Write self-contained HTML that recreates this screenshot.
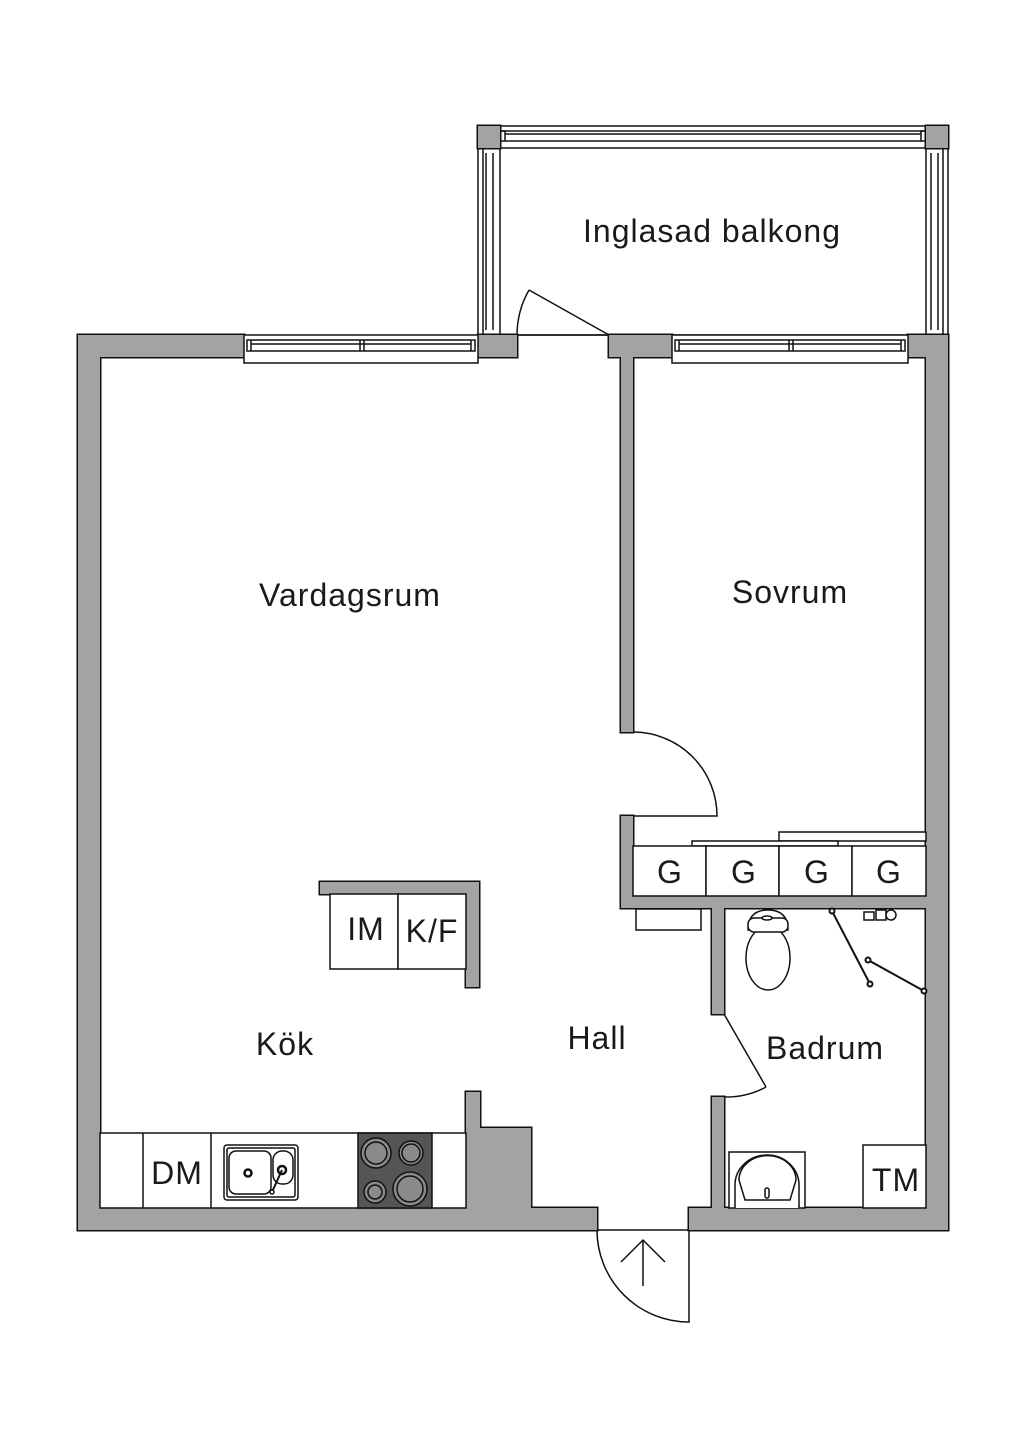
<!DOCTYPE html>
<html><head><meta charset="utf-8"><style>
html,body{margin:0;padding:0;background:#fff}
svg{display:block}
text{font-family:"Liberation Sans",sans-serif;fill:#1a1a1a;letter-spacing:1px}
</style></head><body>
<svg width="1024" height="1448" viewBox="0 0 1024 1448" xmlns="http://www.w3.org/2000/svg">
<rect width="1024" height="1448" fill="#fff"/>
<g fill="none" stroke="#111" stroke-width="1.5">
<rect x="478" y="126" width="470" height="209"/>
<line x1="500" y1="148" x2="926" y2="148"/>
<line x1="500" y1="131" x2="926" y2="131"/>
<line x1="505" y1="134" x2="921" y2="134"/>
<line x1="505" y1="141" x2="921" y2="141"/>
<rect x="500" y="131" width="5" height="10"/><rect x="921" y="131" width="5" height="10"/>
<line x1="500" y1="148" x2="500" y2="335"/>
<line x1="483" y1="148" x2="483" y2="335"/>
<line x1="486" y1="153" x2="486" y2="330"/>
<line x1="493" y1="153" x2="493" y2="330"/>
<line x1="926" y1="148" x2="926" y2="335"/>
<line x1="943" y1="148" x2="943" y2="335"/>
<line x1="931" y1="153" x2="931" y2="330"/>
<line x1="938" y1="153" x2="938" y2="330"/>
</g>
<g fill="#a3a3a3" stroke="#111" stroke-width="3">
<rect x="478" y="126" width="22" height="22"/><rect x="926" y="126" width="22" height="22"/>
<rect x="78" y="335" width="22" height="895"/>
<rect x="78" y="335" width="166" height="22"/>
<rect x="478" y="335" width="39" height="22"/>
<rect x="609" y="335" width="63" height="22"/>
<rect x="908" y="335" width="40" height="22"/>
<rect x="926" y="335" width="22" height="895"/>
<rect x="78" y="1208" width="519" height="22"/>
<rect x="689" y="1208" width="259" height="22"/>
<rect x="621" y="357" width="12" height="375"/>
<rect x="621" y="816" width="12" height="92"/>
<rect x="621" y="896" width="305" height="12"/>
<rect x="712" y="896" width="12" height="118"/>
<rect x="712" y="1097" width="12" height="111"/>
<rect x="466" y="1092" width="14" height="116"/>
<rect x="480" y="1128" width="51" height="80"/>
<rect x="320" y="882" width="159" height="12"/>
<rect x="466" y="882" width="13" height="105"/>
</g>
<g fill="#a3a3a3">
<rect x="478" y="126" width="22" height="22"/><rect x="926" y="126" width="22" height="22"/>
<rect x="78" y="335" width="22" height="895"/>
<rect x="78" y="335" width="166" height="22"/>
<rect x="478" y="335" width="39" height="22"/>
<rect x="609" y="335" width="63" height="22"/>
<rect x="908" y="335" width="40" height="22"/>
<rect x="926" y="335" width="22" height="895"/>
<rect x="78" y="1208" width="519" height="22"/>
<rect x="689" y="1208" width="259" height="22"/>
<rect x="621" y="357" width="12" height="375"/>
<rect x="621" y="816" width="12" height="92"/>
<rect x="621" y="896" width="305" height="12"/>
<rect x="712" y="896" width="12" height="118"/>
<rect x="712" y="1097" width="12" height="111"/>
<rect x="466" y="1092" width="14" height="116"/>
<rect x="480" y="1128" width="51" height="80"/>
<rect x="320" y="882" width="159" height="12"/>
<rect x="466" y="882" width="13" height="105"/>
</g>
<g fill="#fff" stroke="#111" stroke-width="1.5">
<rect x="244" y="335" width="234" height="28"/>
<rect x="247" y="340" width="228" height="11"/>
<line x1="251" y1="344" x2="471" y2="344" /><line x1="251" y1="340" x2="251" y2="351"/><line x1="471" y1="340" x2="471" y2="351"/>
<line x1="360" y1="340" x2="360" y2="351"/><line x1="364" y1="340" x2="364" y2="351"/>
<rect x="672" y="335" width="236" height="28"/>
<rect x="675" y="340" width="230" height="11"/>
<line x1="679" y1="344" x2="901" y2="344"/><line x1="679" y1="340" x2="679" y2="351"/><line x1="901" y1="340" x2="901" y2="351"/>
<line x1="789" y1="340" x2="789" y2="351"/><line x1="793" y1="340" x2="793" y2="351"/>
</g>
<g fill="none" stroke="#111" stroke-width="1.5">
<line x1="517" y1="335" x2="609" y2="335"/>
<line x1="529" y1="290" x2="609" y2="335"/>
<path d="M529 290 A92 92 0 0 0 517 335"/>
<path d="M633 732 A84 84 0 0 1 717 816 L633 816"/>
<line x1="724" y1="1014" x2="766" y2="1087"/>
<path d="M766 1087 A84 84 0 0 1 724 1097"/>
<line x1="597" y1="1230" x2="689" y2="1230"/>
<path d="M597 1230 A92 92 0 0 0 689 1322 L689 1230"/>
<line x1="643" y1="1286" x2="643" y2="1240"/>
<polyline points="621,1262 643,1240 665,1262"/>
</g>
<g fill="#fff" stroke="#111" stroke-width="1.5">
<rect x="779" y="832" width="147" height="9"/>
<rect x="692" y="841" width="146" height="5"/>
<rect x="633" y="846" width="73" height="50"/><rect x="706" y="846" width="73" height="50"/>
<rect x="779" y="846" width="73" height="50"/><rect x="852" y="846" width="74" height="50"/>
<rect x="636" y="909" width="65" height="21"/>
<rect x="330" y="894" width="68" height="75"/><rect x="398" y="894" width="68" height="75"/>
<rect x="100" y="1133" width="366" height="75"/>
<line x1="143" y1="1133" x2="143" y2="1208"/><line x1="211" y1="1133" x2="211" y2="1208"/>
<rect x="224" y="1145" width="74" height="55" rx="3"/>
<rect x="227" y="1148" width="68" height="49" rx="2"/>
<rect x="229" y="1151" width="42" height="43" rx="7"/>
<rect x="273" y="1151" width="20" height="33" rx="9"/>
</g>
<g stroke="#111" stroke-width="1.5">
<circle cx="248" cy="1173" r="3.5" fill="#fff" stroke-width="2.5"/>
<circle cx="282" cy="1170" r="4" fill="#fff" stroke-width="2.5"/>
<line x1="282" y1="1170" x2="272" y2="1192" stroke-width="2"/>
<circle cx="272" cy="1192" r="2" fill="#fff"/>
<rect x="358" y="1133" width="74" height="75" fill="#555"/>
<g fill="#8a8a8a">
<circle cx="376" cy="1153" r="15"/><circle cx="376" cy="1153" r="11"/>
<circle cx="411" cy="1153" r="12"/><circle cx="411" cy="1153" r="9"/>
<circle cx="375" cy="1192" r="11"/><circle cx="375" cy="1192" r="7"/>
<circle cx="410" cy="1189" r="17"/><circle cx="410" cy="1189" r="13"/>
</g>
</g>
<g fill="#fff" stroke="#111" stroke-width="1.5">
<path d="M748 930 Q748 910 768 910 Q788 910 788 930 Z"/>
<ellipse cx="768" cy="958" rx="22" ry="32"/>
<rect x="748" y="918" width="40" height="14" rx="6"/>
<ellipse cx="767" cy="918" rx="5" ry="2"/>
<rect x="729" y="1152" width="76" height="56"/>
<path d="M735 1208 L735 1185 A32 30 0 0 1 799 1185 L799 1208"/>
<path d="M739 1180 A28 24 0 0 1 796 1180 L790 1200 L745 1200 Z"/>
<rect x="765" y="1188" width="4" height="10" rx="2"/>
<rect x="863" y="1145" width="63" height="63"/>
<rect x="864" y="912" width="10" height="8"/><rect x="876" y="910" width="10" height="10"/>
<circle cx="891" cy="915" r="5"/>
</g>
<g stroke="#111" stroke-width="2" fill="#fff">
<line x1="832" y1="911" x2="870" y2="984"/>
<line x1="868" y1="960" x2="924" y2="991"/>
<circle cx="832" cy="911" r="2.5"/><circle cx="870" cy="984" r="2.5"/>
<circle cx="868" cy="960" r="2.5"/><circle cx="924" cy="991" r="2.5"/>
</g>
<g font-size="32" text-anchor="middle">
<text x="712" y="242">Inglasad balkong</text>
<text x="350" y="606">Vardagsrum</text>
<text x="790" y="603">Sovrum</text>
<text x="285" y="1055">Kök</text>
<text x="597" y="1049">Hall</text>
<text x="825" y="1059">Badrum</text>
<text x="670" y="883">G</text><text x="744" y="883">G</text>
<text x="817" y="883">G</text><text x="889" y="883">G</text>
<text x="366" y="940">IM</text><text x="432" y="942">K/F</text>
<text x="177" y="1184">DM</text><text x="896" y="1191">TM</text>
</g>
</svg>
</body></html>
